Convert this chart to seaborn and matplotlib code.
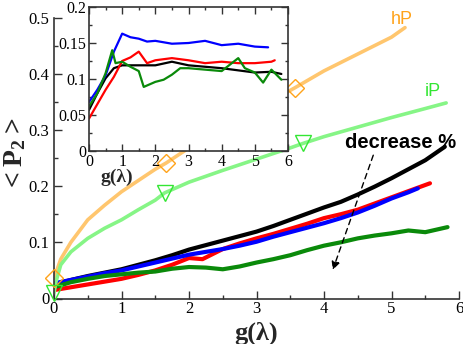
import matplotlib
matplotlib.use("Agg")
import matplotlib.pyplot as plt
import seaborn as sns
import pandas as pd
from matplotlib.ticker import MultipleLocator

# ---------------- data ----------------
black_g = [0, 0.25, 0.5, 0.75, 1, 1.25, 1.5, 1.75, 2, 2.25, 2.5, 2.75, 3, 3.25, 3.5, 3.75, 4, 4.25, 4.5, 4.75, 5, 5.25, 5.5, 5.79]
black_p = [0.025, 0.033, 0.040, 0.046, 0.052, 0.060, 0.068, 0.077, 0.087, 0.095, 0.103, 0.111, 0.119, 0.129, 0.140, 0.151, 0.162, 0.172, 0.185, 0.199, 0.214, 0.230, 0.246, 0.270]

red_g = [0, 0.25, 0.5, 0.75, 1, 1.25, 1.5, 1.75, 2, 2.2, 2.5, 2.75, 3, 3.25, 3.5, 3.75, 4, 4.25, 4.5, 4.75, 5, 5.25, 5.57]
red_p = [0.015, 0.020, 0.025, 0.030, 0.035, 0.042, 0.050, 0.060, 0.072, 0.070, 0.088, 0.098, 0.107, 0.115, 0.124, 0.133, 0.143, 0.150, 0.158, 0.169, 0.180, 0.191, 0.205]

blue_g = [0, 0.25, 0.5, 0.75, 1, 1.25, 1.5, 1.75, 2, 2.25, 2.5, 2.75, 3, 3.25, 3.5, 3.75, 4, 4.25, 4.5, 4.75, 5, 5.25, 5.39]
blue_p = [0.027, 0.033, 0.039, 0.045, 0.050, 0.057, 0.064, 0.071, 0.078, 0.083, 0.088, 0.094, 0.101, 0.110, 0.118, 0.126, 0.134, 0.143, 0.153, 0.165, 0.178, 0.189, 0.196]

green_g = [0, 0.25, 0.5, 0.75, 1, 1.25, 1.5, 1.75, 2, 2.25, 2.5, 2.75, 3, 3.25, 3.5, 3.75, 4, 4.25, 4.5, 4.75, 5, 5.25, 5.5, 5.83]
green_p = [0.020, 0.029, 0.035, 0.040, 0.043, 0.046, 0.048, 0.053, 0.056, 0.055, 0.052, 0.057, 0.064, 0.070, 0.077, 0.086, 0.094, 0.100, 0.107, 0.112, 0.116, 0.121, 0.118, 0.127]

hP_g = [0, 0.1, 0.25, 0.5, 0.75, 1, 1.25, 1.5, 1.66, 2, 2.5, 3, 3.57, 4, 4.5, 5, 5.2]
hP_p = [0.036, 0.07, 0.10, 0.14, 0.166, 0.19, 0.21, 0.23, 0.241, 0.268, 0.30, 0.337, 0.375, 0.405, 0.435, 0.465, 0.482]
hP_marks = [0, 8, 12]

iP_g = [0, 0.03, 0.1, 0.25, 0.5, 0.75, 1, 1.25, 1.5, 1.64, 2, 2.5, 3, 3.5, 3.69, 4, 4.5, 5, 5.5, 5.81]
iP_p = [0.01, 0.03, 0.06, 0.083, 0.107, 0.125, 0.14, 0.158, 0.175, 0.188, 0.207, 0.228, 0.248, 0.268, 0.276, 0.288, 0.305, 0.322, 0.338, 0.348]
iP_marks = [0, 9, 14]

# inset
in_black_g = [0, 0.25, 0.5, 0.75, 1, 1.5, 2, 2.5, 3, 3.5, 4, 4.5, 5, 5.5, 5.8]
in_black_p = [0.057, 0.08, 0.101, 0.115, 0.119, 0.119, 0.119, 0.124, 0.119, 0.117, 0.115, 0.112, 0.109, 0.110, 0.107]
in_red_g = [0, 0.25, 0.5, 0.75, 1, 1.25, 1.5, 1.75, 2, 2.5, 3, 3.5, 4, 4.5, 5, 5.5, 5.6]
in_red_p = [0.045, 0.065, 0.085, 0.103, 0.125, 0.130, 0.138, 0.122, 0.126, 0.129, 0.126, 0.122, 0.124, 0.122, 0.122, 0.124, 0.126]
in_blue_g = [0, 0.25, 0.5, 0.75, 1, 1.25, 1.5, 1.75, 2, 2.5, 3, 3.5, 4, 4.5, 5, 5.4]
in_blue_p = [0.068, 0.085, 0.105, 0.138, 0.163, 0.158, 0.156, 0.152, 0.153, 0.149, 0.150, 0.153, 0.147, 0.149, 0.145, 0.144]
in_green_g = [0, 0.25, 0.5, 0.7, 0.8, 1, 1.25, 1.5, 1.65, 2, 2.25, 2.5, 2.75, 3, 3.5, 4, 4.5, 4.7, 5, 5.25, 5.5, 5.8]
in_green_p = [0.062, 0.08, 0.108, 0.140, 0.122, 0.124, 0.117, 0.111, 0.089, 0.096, 0.099, 0.106, 0.115, 0.115, 0.113, 0.111, 0.129, 0.115, 0.109, 0.095, 0.113, 0.099]

x_ticks = [0, 1, 2, 3, 4, 5, 6]
y_ticks = [0, 0.1, 0.2, 0.3, 0.4, 0.5]
y_tick_labels = ["0", "0.1", "0.2", "0.3", "0.4", "0.5"]
in_y_ticks = [0, 0.05, 0.1, 0.15, 0.2]
in_y_tick_labels = ["0", "0.05", "0.1", "0.15", "0.2"]

# ---------------- style ----------------
sns.set_style("ticks")
plt.rcParams["font.family"] = ["Liberation Serif", "DejaVu Serif"]
plt.rcParams["mathtext.fontset"] = "custom"
plt.rcParams["mathtext.rm"] = "Liberation Serif"
plt.rcParams["mathtext.bf"] = "Liberation Serif:bold"

C_ORANGE_LINE = "#FFC66E"
C_ORANGE = "#FFA31A"
C_LGREEN_LINE = "#86F586"
C_LGREEN = "#33E633"
C_GREEN = "#0A8A0A"
SPINE = "#333333"

fig = plt.figure(figsize=(4.63, 3.44), dpi=100)
ax = fig.add_axes([54 / 463, 1 - 298.5 / 344, 405 / 463, 281 / 344])


def df(g, p):
    return pd.DataFrame({"g": g, "p": p})


main_lw = 3.0
sns.lineplot(data=df(black_g, black_p), x="g", y="p", ax=ax, color="black", lw=main_lw, sort=False, estimator=None)
sns.lineplot(data=df(red_g, red_p), x="g", y="p", ax=ax, color="red", lw=main_lw, sort=False, estimator=None)
sns.lineplot(data=df(blue_g, blue_p), x="g", y="p", ax=ax, color="blue", lw=main_lw, sort=False, estimator=None)
sns.lineplot(data=df(green_g, green_p), x="g", y="p", ax=ax, color=C_GREEN, lw=main_lw, sort=False, estimator=None)
sns.lineplot(data=df(hP_g, hP_p), x="g", y="p", ax=ax, color=C_ORANGE_LINE, lw=2.6, sort=False, estimator=None)
sns.lineplot(data=df(iP_g, iP_p), x="g", y="p", ax=ax, color=C_LGREEN_LINE, lw=2.6, sort=False, estimator=None)
# markers from the data points
hP_df = df(hP_g, hP_p).iloc[hP_marks]
iP_df = df(iP_g, iP_p).iloc[iP_marks]
ax.plot(hP_df["g"], hP_df["p"], ls="none", marker="D", ms=9, mfc="none", mec=C_ORANGE, mew=1.0, clip_on=False, zorder=5)
ax.plot(iP_df["g"], iP_df["p"], ls="none", marker="v", ms=12, mfc="none", mec=C_LGREEN, mew=1.0, clip_on=False, zorder=5)

ax.set_xlim(0, 6)
ax.set_ylim(0, 0.5)
ax.set_xticks(x_ticks)
ax.set_xticklabels([str(t) for t in x_ticks])
ax.set_yticks(y_ticks)
ax.set_yticklabels(y_tick_labels)
ax.xaxis.set_minor_locator(MultipleLocator(0.5))
ax.yaxis.set_minor_locator(MultipleLocator(0.05))
ax.tick_params(which="both", direction="in", colors=SPINE, labelcolor="black", labelsize=12, width=1.0)
ax.tick_params(which="major", length=6)
ax.tick_params(which="minor", length=3)
ax.tick_params(axis="x", pad=2)
for s in ["top", "right"]:
    ax.spines[s].set_visible(False)
for s in ["left", "bottom"]:
    ax.spines[s].set_color(SPINE)
    ax.spines[s].set_linewidth(1.2)
ax.set_xlabel("")
ax.set_ylabel("")

fig.text(256 / 463, 1 - 333 / 344, "g(λ)", ha="center", va="center", fontsize=19, fontweight="bold")
fig.text(15 / 463, 1 - 155 / 344, r"$\mathbf{<P_2>}$", ha="center", va="center", rotation=90, fontsize=20)

ax.text(5.15, 0.497, "hP", color=C_ORANGE, fontsize=13, ha="center", va="center", family=["Liberation Sans"])
ax.text(5.61, 0.368, "iP", color=C_LGREEN, fontsize=13, ha="center", va="center", family=["Liberation Sans"])
ax.text(5.14, 0.278, "decrease %", color="black", fontsize=14.5, fontweight="bold", ha="center", va="center", family=["Liberation Sans"])
ax.annotate("", xy=(4.13, 0.051), xytext=(4.73, 0.255),
            arrowprops=dict(arrowstyle="-|>", linestyle=(0, (4, 3)), lw=1.0, color="black", mutation_scale=12, shrinkA=0, shrinkB=0))

# ---------------- inset ----------------
ins = fig.add_axes([89 / 463, 1 - 151 / 344, 199 / 463, 144 / 344])
ins.set_facecolor("white")
in_lw = 1.6
sns.lineplot(data=df(in_black_g, in_black_p), x="g", y="p", ax=ins, color="black", lw=in_lw, sort=False, estimator=None)
sns.lineplot(data=df(in_red_g, in_red_p), x="g", y="p", ax=ins, color="red", lw=in_lw, sort=False, estimator=None)
sns.lineplot(data=df(in_blue_g, in_blue_p), x="g", y="p", ax=ins, color="blue", lw=in_lw, sort=False, estimator=None)
sns.lineplot(data=df(in_green_g, in_green_p), x="g", y="p", ax=ins, color=C_GREEN, lw=in_lw, sort=False, estimator=None)
ins.set_xlim(0, 6)
ins.set_ylim(0, 0.2)
ins.set_xticks(x_ticks)
ins.set_xticklabels([str(t) for t in x_ticks])
ins.set_yticks(in_y_ticks)
ins.set_yticklabels(in_y_tick_labels)
ins.xaxis.set_minor_locator(MultipleLocator(0.5))
ins.yaxis.set_minor_locator(MultipleLocator(0.025))
ins.tick_params(which="both", direction="in", top=True, right=True, colors=SPINE, labelcolor="black", labelsize=11.5, width=1.0, pad=2)
ins.tick_params(which="major", length=5)
ins.tick_params(which="minor", length=2.5)
for s in ins.spines.values():
    s.set_visible(True)
    s.set_color(SPINE)
    s.set_linewidth(1.2)
ins.set_xlabel("")
ins.set_ylabel("")
ins.text(0.14, -0.18, "g(λ)", transform=ins.transAxes, ha="center", va="center", fontsize=14, fontweight="bold")

fig.savefig("out.png", dpi=100)
